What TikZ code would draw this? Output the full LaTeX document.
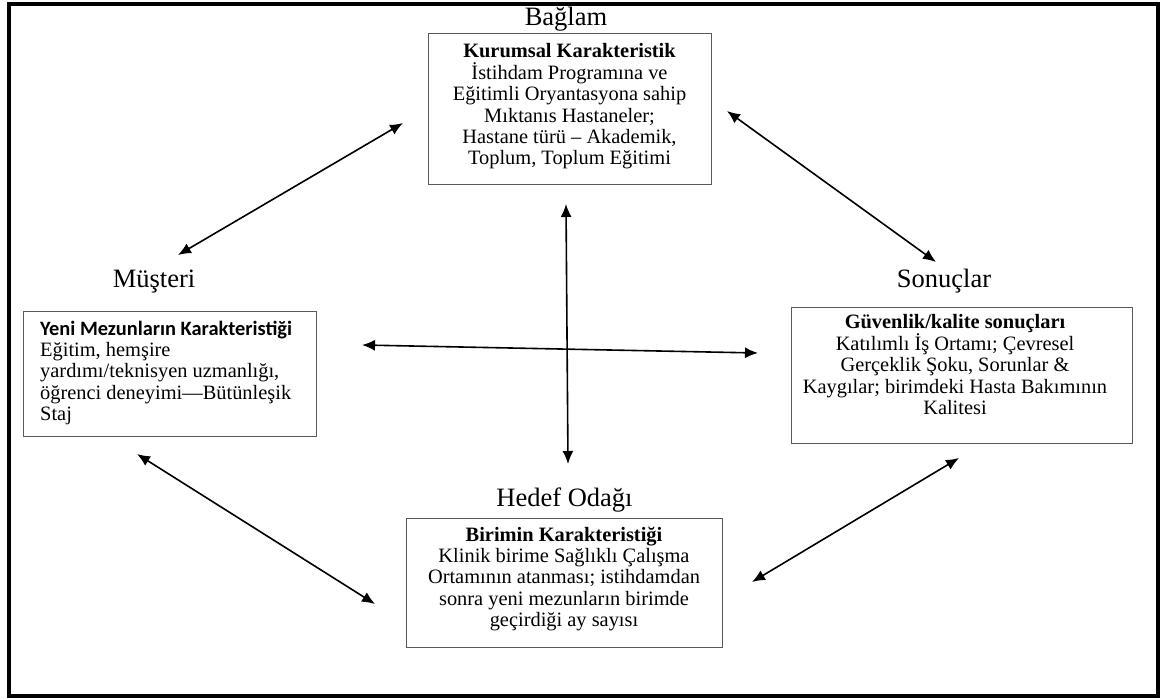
\documentclass[tikz,border=0pt]{standalone}
\usepackage{fontspec}
\setmainfont{Liberation Serif}
\newfontfamily\carl{Carlito}
\usetikzlibrary{arrows.meta}
\begin{document}
\begin{tikzpicture}[x=1pt,y=-1pt,
  frame/.style={line width=4pt},
  box/.style={draw=black!65, line width=1.3pt, inner sep=0pt},
  body/.style={inner sep=0pt, align=center, font=\fontsize{20.4}{21.4}\selectfont},
  head/.style={inner sep=0pt, font=\fontsize{26.5}{30}\selectfont},
  link/.style={line width=1.6pt, {Latex[length=13pt,width=11pt]}-{Latex[length=13pt,width=11pt]}}]
\useasboundingbox (0,0) rectangle (1165,698);
\draw[frame] (8.5,4) rectangle (1158,695.5);

% boxes
\node[box, anchor=north west, minimum width=283pt, minimum height=151pt] (ctxbox) at (428,33) {};
\node[box, anchor=north west, minimum width=293pt, minimum height=125pt] (clibox) at (23,311) {};
\node[box, anchor=north west, minimum width=341pt, minimum height=136pt] (resbox) at (791,307) {};
\node[box, anchor=north west, minimum width=316pt, minimum height=129pt] (unitbox) at (406,518) {};

% headings
\node[head, anchor=base] (ctxlabel) at (566,26) {Bağlam};
\node[head, anchor=base] (clilabel) at (154,287) {Müşteri};
\node[head, anchor=base] (reslabel) at (944,287) {Sonuçlar};
\node[head, anchor=base] (unitlabel) at (564.5,506) {Hedef Odağı};

% texts
\node[body, anchor=north] (ctxtext) at (569.5,43.5)
  {\textbf{Kurumsal Karakteristik}\\İstihdam Programına ve\\Eğitimli Oryantasyona sahip\\Mıktanıs Hastaneler;\\Hastane türü – Akademik,\\Toplum, Toplum Eğitimi};
\node[body, align=left, anchor=north west] (clitext) at (40,320.6)
  {{\carl\bfseries Yeni Mezunların Karakteristiği}\\Eğitim, hemşire\\yardımı/teknisyen uzmanlığı,\\öğrenci deneyimi—Bütünleşik\\Staj};
\node[body, anchor=north] (restext) at (955,314.6)
  {\textbf{Güvenlik/kalite sonuçları}\\Katılımlı İş Ortamı; Çevresel\\Gerçeklik Şoku, Sorunlar \&\\Kaygılar; birimdeki Hasta Bakımının\\Kalitesi};
\node[body, anchor=north] (unittext) at (564,526.6)
  {\textbf{Birimin Karakteristiği}\\Klinik birime Sağlıklı Çalışma\\Ortamının atanması; istihdamdan\\sonra yeni mezunların birimde\\geçirdiği ay sayısı};

% arrow ends
\coordinate (tlA) at (403,123); \coordinate (tlB) at (178,255);
\coordinate (trA) at (727,111); \coordinate (trB) at (936,262);
\coordinate (hA) at (362,345);  \coordinate (hB) at (758,353);
\coordinate (vA) at (566,204);  \coordinate (vB) at (568,464);
\coordinate (blA) at (137,454); \coordinate (blB) at (375,604);
\coordinate (brA) at (959,458); \coordinate (brB) at (752,582);

\draw[link] (tlA) -- (tlB);
\draw[link] (trA) -- (trB);
\draw[link] (hA) -- (hB);
\draw[link] (vA) -- (vB);
\draw[link] (blA) -- (blB);
\draw[link] (brA) -- (brB);
\end{tikzpicture}
\end{document}
